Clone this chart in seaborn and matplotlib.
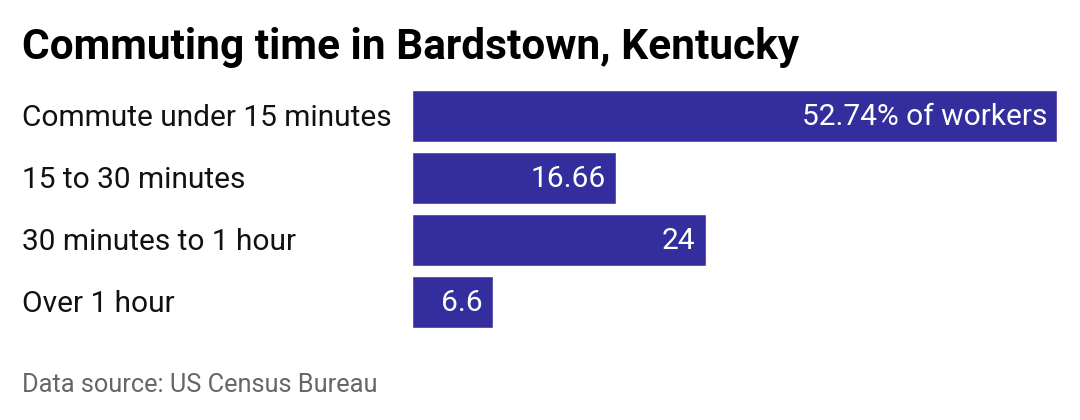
import matplotlib
matplotlib.use("Agg")
import matplotlib.pyplot as plt
import seaborn as sns
import pandas as pd

categories = ["Commute under 15 minutes", "15 to 30 minutes", "30 minutes to 1 hour", "Over 1 hour"]
values = [52.74, 16.66, 24, 6.6]
labels = ["52.74% of workers", "16.66", "24", "6.6"]

sns.set_style("white")
plt.rcParams['font.family'] = ['Roboto', 'DejaVu Sans']

df = pd.DataFrame({"cat": categories, "val": values})
fig = plt.figure(figsize=(10.8, 4.2), dpi=100)
ax = fig.add_axes([412/1080, 1-333/420, 645/1080, 248/420])
sns.barplot(data=df, x="val", y="cat", color="#332D9E", saturation=1, width=0.85, ax=ax)
ax.set_xlim(0, 52.74)
ax.set_ylim(3.5, -0.5)
for s in ax.spines.values():
    s.set_visible(False)
ax.set_xticks([])
ax.set_xlabel("")
ax.set_ylabel("")
ax.tick_params(axis='y', length=0, pad=0)
ax.set_yticklabels([])
for i, (c, v, l) in enumerate(zip(categories, values, labels)):
    ax.text(v - 0.8, i + 0.02, l, color="white", fontsize=21.5, ha="right", va="center")
    fig.text(22/1080, 1-(118+62*i)/420, c, fontsize=21.5, ha="left", va="center", color="#111111")

fig.text(22/1080, 1-47/420, "Commuting time in Bardstown, Kentucky", fontsize=30.5, fontweight="bold", ha="left", va="center", color="black")
fig.text(22/1080, 1-385/420, "Data source: US Census Bureau", fontsize=18.3, ha="left", va="center", color="#666666")
fig.savefig("out.png", dpi=100)
